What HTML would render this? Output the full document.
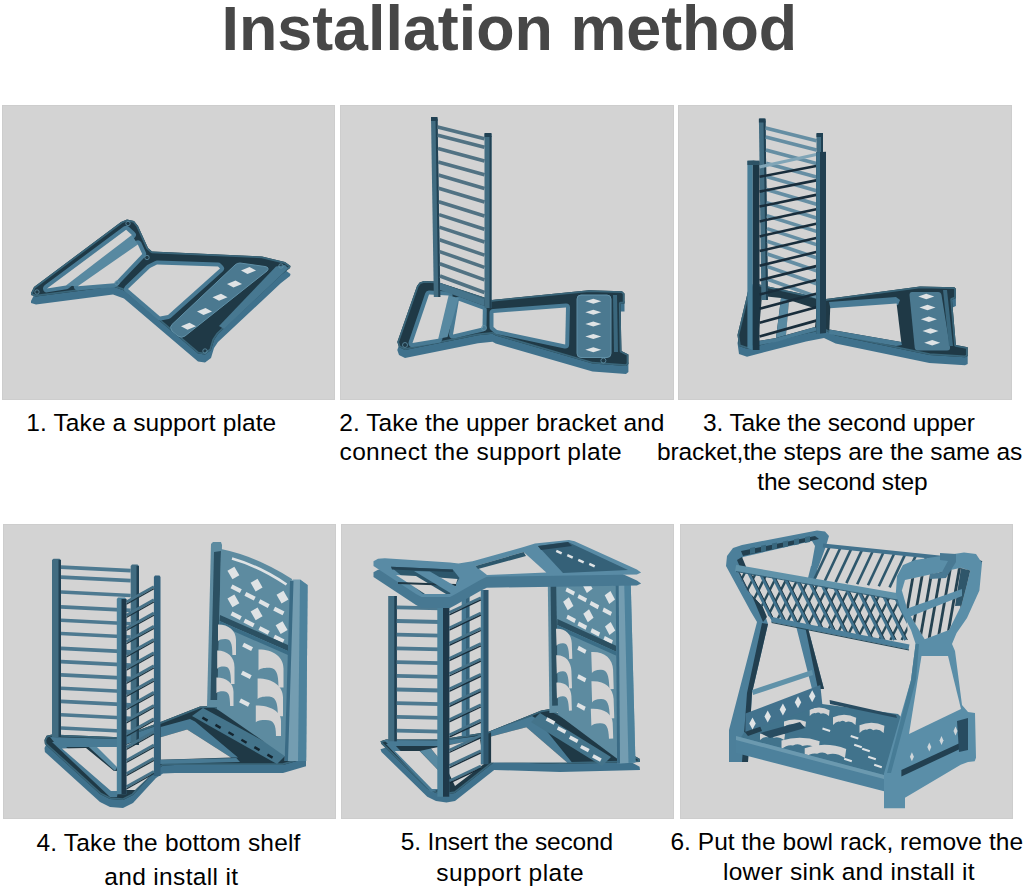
<!DOCTYPE html>
<html><head><meta charset="utf-8">
<style>
html,body{margin:0;padding:0;background:#fff;width:1024px;height:889px;overflow:hidden;position:relative;font-family:"Liberation Sans",sans-serif;}
.title{position:absolute;left:-2.7px;top:-3.1px;width:1024px;text-align:center;font-weight:bold;font-size:62.8px;line-height:62.8px;color:#474747;white-space:nowrap;}
.p{position:absolute;background:#d3d3d3;overflow:hidden;box-shadow:inset 0 0 0 1px #cdcdcd;}
.p svg{position:absolute;left:0;top:0;filter:blur(0.35px);}
.c{position:absolute;font-size:24.5px;line-height:29px;color:#000;white-space:nowrap;}
</style></head><body>
<div class="title"><span id="title">Installation method</span></div>

<div class="p" id="p1" style="left:2px;top:105px;width:333px;height:295px"><svg width="333" height="295" viewBox="2 105 333 295"><polygon points="31,301 34,295 121,230 127,227.5 134,229 138,234 148,256 152,259.5 262,264.5 285,270 290.5,274 290,276 281,283 218,342 214,348 211,358 205,362.5 198,361.5 124,298.5 113,294.5 36,304.5 31,303" fill="#3f718c" /><polygon points="31,293 34,287 121,222 127,219.5 134,221 138,226 148,248 152,251.5 262,256.5 285,262 290.5,266 290,268 281,275 218,334 214,340 211,350 205,354.5 198,353.5 124,290.5 113,286.5 36,296.5 31,295" fill="#1f3946" /><clipPath id="cx1"><polygon points="31,293 34,287 121,222 127,219.5 134,221 138,226 148,248 152,251.5 262,256.5 285,262 290.5,266 290,268 281,275 218,334 214,340 211,350 205,354.5 198,353.5 124,290.5 113,286.5 36,296.5 31,295"/></clipPath><polygon points="31,293 34,287 121,222 127,219.5 134,221 138,226 148,248 152,251.5 262,256.5 285,262 290.5,266 290,268 281,275 218,334 214,340 211,350 205,354.5 198,353.5 124,290.5 113,286.5 36,296.5 31,295" fill="none" stroke="#396579" stroke-width="3.5" stroke-linejoin="round" clip-path="url(#cx1)"/><polygon points="47,288.4 126.1,229.8 131.9,234.9 66,285.4" fill="#487a94" stroke="#487a94" stroke-width="8" stroke-linejoin="round"/><polygon points="77.7,286.2 137.8,244.4 142.2,253.9 114.4,283.2" fill="#487a94" stroke="#487a94" stroke-width="8" stroke-linejoin="round"/><polygon points="128,289 150,268 157,264.5 218,266.5 220,268.5 168,315 160,316.5" fill="#487a94" stroke="#487a94" stroke-width="8" stroke-linejoin="round"/><polygon points="66,285.4 131.9,234.9 137.8,244.4 77.7,286.2" fill="#5889a1" /><polygon points="47,288.4 126.1,229.8 131.9,234.9 66,285.4" fill="#d3d3d3" /><polygon points="77.7,286.2 137.8,244.4 142.2,253.9 114.4,283.2" fill="#d3d3d3" /><polygon points="128,289 150,268 157,264.5 218,266.5 220,268.5 168,315 160,316.5" fill="#d3d3d3" /><path d="M240,263 L265,266.5 Q270,267.5 267,271 L185,336 Q182,338.5 178,336 L172,331 Q169,327 172,324.5 L235,265 Q237,263 240,263 Z" fill="#4b7990" stroke="#6090a7" stroke-width="1"/><polygon points="241,270.5 249.5,267 256,270.5 247.5,274" fill="#dfe3e5" /><polygon points="227,284 235.5,280.5 242,284 233.5,287.5" fill="#dfe3e5" /><polygon points="212.5,297.3 221,293.8 227.5,297.3 219,300.8" fill="#dfe3e5" /><polygon points="197,311.4 205.5,307.9 212,311.4 203.5,314.9" fill="#dfe3e5" /><polygon points="181,326.3 189.5,322.8 196,326.3 187.5,329.8" fill="#dfe3e5" /><polygon points="276,266.5 285,265 288,268 281,275 224,329 219,326" fill="#477891" /><circle cx="128" cy="223.5" r="2.2" fill="none" stroke="#6090a7" stroke-width="0.8"/><circle cx="147" cy="257.5" r="2.2" fill="none" stroke="#6090a7" stroke-width="0.8"/><circle cx="117" cy="283" r="2.2" fill="none" stroke="#6090a7" stroke-width="0.8"/><circle cx="37" cy="292" r="2.2" fill="none" stroke="#6090a7" stroke-width="0.8"/><circle cx="281" cy="266" r="2.2" fill="none" stroke="#6090a7" stroke-width="0.8"/><circle cx="205" cy="351" r="2.2" fill="none" stroke="#6090a7" stroke-width="0.8"/></svg></div>
<div class="p" id="p2" style="left:340px;top:105px;width:334px;height:295px"><svg width="334" height="295" viewBox="340 105 334 295"><polygon points="419.6,290.4 424,289 436,289.5 492,308 496,307.5 589,298.3 622,299.2 624.5,301.5 624.5,311.6 620.6,311.6 621.4,359 628.4,362.4 628.4,372 626,374 592.5,371.6 495.6,343.4 492.5,341.8 478,343.2 405,358 399,355 397.3,350 417,294" fill="#3f718c" /><polygon points="419.6,282.4 424,281 436,281.5 492,300 496,299.5 589,290.3 622,291.2 624.5,293.5 624.5,303.6 620.6,303.6 621.4,351 628.4,354.4 628.4,364 626,366 592.5,363.6 495.6,335.4 492.5,333.8 478,335.2 405,350 399,347 397.3,342 417,286" fill="#1f3946" /><clipPath id="cx2"><polygon points="419.6,282.4 424,281 436,281.5 492,300 496,299.5 589,290.3 622,291.2 624.5,293.5 624.5,303.6 620.6,303.6 621.4,351 628.4,354.4 628.4,364 626,366 592.5,363.6 495.6,335.4 492.5,333.8 478,335.2 405,350 399,347 397.3,342 417,286"/></clipPath><polygon points="419.6,282.4 424,281 436,281.5 492,300 496,299.5 589,290.3 622,291.2 624.5,293.5 624.5,303.6 620.6,303.6 621.4,351 628.4,354.4 628.4,364 626,366 592.5,363.6 495.6,335.4 492.5,333.8 478,335.2 405,350 399,347 397.3,342 417,286" fill="none" stroke="#396579" stroke-width="3.5" stroke-linejoin="round" clip-path="url(#cx2)"/><polygon points="429,294.5 448.6,295.5 438.3,338.8 412.5,343" fill="#487a94" stroke="#487a94" stroke-width="8" stroke-linejoin="round"/><polygon points="458.8,300.8 482.8,309.5 482.5,327.5 453,334.5" fill="#487a94" stroke="#487a94" stroke-width="8" stroke-linejoin="round"/><polygon points="493.5,313 566,307.5 565.2,344.5 497,330 493.5,327" fill="#487a94" stroke="#487a94" stroke-width="8" stroke-linejoin="round"/><polygon points="448.6,295.5 458.8,298 447.5,337 438.3,338.8" fill="#5889a1" /><polygon points="429,294.5 448.6,295.5 438.3,338.8 412.5,343" fill="#d3d3d3" /><polygon points="458.8,300.8 482.8,309.5 482.5,327.5 453,334.5" fill="#d3d3d3" /><polygon points="493.5,313 566,307.5 565.2,344.5 497,330 493.5,327" fill="#d3d3d3" /><rect x="577" y="295" width="34" height="62.5" rx="4" fill="#4b7990" stroke="#6090a7" stroke-width="1"/><polygon points="585.3,301.25 593.3,298.75 601.3,301.25 593.3,303.75" fill="#dfe3e5" /><polygon points="585.3,312.2 593.3,309.7 601.3,312.2 593.3,314.7" fill="#dfe3e5" /><polygon points="585.3,323.9 593.3,321.4 601.3,323.9 593.3,326.4" fill="#dfe3e5" /><polygon points="585.3,336.4 593.3,333.9 601.3,336.4 593.3,338.9" fill="#dfe3e5" /><polygon points="585.3,349.7 593.3,347.2 601.3,349.7 593.3,352.2" fill="#dfe3e5" /><polygon points="613,295 617,295 618,352 614,352" fill="#3a677d" /><circle cx="484" cy="328" r="2.5" fill="none" stroke="#6090a7" stroke-width="0.8"/><circle cx="603.4" cy="360.6" r="2.5" fill="none" stroke="#6090a7" stroke-width="0.8"/><circle cx="405" cy="345" r="2.5" fill="none" stroke="#6090a7" stroke-width="0.8"/><polygon points="431,118 432,117 436.5,117 437.5,118 440.3,297 433.8,297" fill="#416c81" /><polygon points="435.5,119 437.5,119 440.3,297 438.3,297" fill="#204153" /><polygon points="431,117 437.5,117 437.5,121 431,121" fill="#204153" /><line x1="437.656" y1="127" x2="484.5" y2="138.711" stroke="#517283" stroke-width="3.6" stroke-linecap="butt"/><line x1="437.785" y1="135.3" x2="484.5" y2="147.291" stroke="#517283" stroke-width="3.6" stroke-linecap="butt"/><line x1="437.992" y1="148.6" x2="484.5" y2="161.036" stroke="#517283" stroke-width="3.6" stroke-linecap="butt"/><line x1="438.198" y1="161.9" x2="484.5" y2="174.777" stroke="#517283" stroke-width="3.6" stroke-linecap="butt"/><line x1="438.404" y1="175.1" x2="484.5" y2="188.41" stroke="#517283" stroke-width="3.6" stroke-linecap="butt"/><line x1="438.609" y1="188.3" x2="484.5" y2="202.038" stroke="#517283" stroke-width="3.6" stroke-linecap="butt"/><line x1="438.819" y1="201.8" x2="484.5" y2="215.972" stroke="#517283" stroke-width="3.6" stroke-linecap="butt"/><line x1="439.018" y1="214.6" x2="484.5" y2="229.179" stroke="#517283" stroke-width="3.6" stroke-linecap="butt"/><line x1="439.213" y1="227.1" x2="484.5" y2="242.073" stroke="#517283" stroke-width="3.6" stroke-linecap="butt"/><line x1="439.41" y1="239.8" x2="484.5" y2="255.169" stroke="#517283" stroke-width="3.6" stroke-linecap="butt"/><line x1="439.594" y1="251.6" x2="484.5" y2="267.333" stroke="#517283" stroke-width="3.6" stroke-linecap="butt"/><line x1="439.784" y1="263.8" x2="484.5" y2="279.906" stroke="#517283" stroke-width="3.6" stroke-linecap="butt"/><line x1="439.973" y1="276" x2="484.5" y2="292.475" stroke="#517283" stroke-width="3.6" stroke-linecap="butt"/><polygon points="484.5,134 485.5,133 490.5,133 491.5,134 491.5,308 484.5,308" fill="#416c81" /><polygon points="484.5,133 491.5,133 491.5,137 484.5,137" fill="#204153" /><polygon points="489.5,136 491.5,136 491.5,308 489.5,308" fill="#204153" /><polygon points="440,283 484.5,299 484.5,306 440,290" fill="#46748b" /></svg></div>
<div class="p" id="p3" style="left:678px;top:105px;width:334px;height:295px"><svg width="334" height="295" viewBox="678 105 334 295"><polygon points="750,293 757,292 826,307 830,306.5 920,294.4 954.4,295.2 955.9,296.75 955.9,306 952,307.7 955.9,353 967.7,355.3 967.7,364 965,365.3 929.4,363 835.6,343.4 824,338 806,341.5 747,356.7 739,354 737.5,343 749,295" fill="#3f718c" /><polygon points="750,285 757,284 826,299 830,298.5 920,286.4 954.4,287.2 955.9,288.75 955.9,298 952,299.7 955.9,345 967.7,347.3 967.7,356 965,357.3 929.4,355 835.6,335.4 824,330 806,333.5 747,348.7 739,346 737.5,335 749,287" fill="#1f3946" /><clipPath id="cx3"><polygon points="750,285 757,284 826,299 830,298.5 920,286.4 954.4,287.2 955.9,288.75 955.9,298 952,299.7 955.9,345 967.7,347.3 967.7,356 965,357.3 929.4,355 835.6,335.4 824,330 806,333.5 747,348.7 739,346 737.5,335 749,287"/></clipPath><polygon points="750,285 757,284 826,299 830,298.5 920,286.4 954.4,287.2 955.9,288.75 955.9,298 952,299.7 955.9,345 967.7,347.3 967.7,356 965,357.3 929.4,355 835.6,335.4 824,330 806,333.5 747,348.7 739,346 737.5,335 749,287" fill="none" stroke="#396579" stroke-width="3.5" stroke-linejoin="round" clip-path="url(#cx3)"/><polygon points="762,296 781,298 776,338 758,341" fill="#d3d3d3" /><polygon points="781,298 789,300 786,335 776,338" fill="#5889a1" /><polygon points="789,300 817,309 815,327 786,335" fill="#d3d3d3" /><polygon points="758,341 776,338 815,327 818,330 776,342 759,345" fill="#487a94" /><polygon points="829,302 896,297 900,300 898,305 831,311" fill="#487a94" /><polygon points="830.2,308.3 896.6,303.6 901.25,341.9 829.4,329.4" fill="#d3d3d3" /><polygon points="829.4,329.4 901.25,341.9 902,345 896,346 829,334" fill="#487a94" /><path d="M912,292 L938,292 Q941,292 941.5,295 L950,347 Q950.5,350.5 947,350.5 L918,350.5 Q915,350.5 914.7,347.5 L909.5,295 Q909.5,292 912,292 Z" fill="#4b7990"/><polygon points="918.25,296.6 926.25,293.85 934.25,296.6 926.25,299.35" fill="#dfe3e5" /><polygon points="919.5,307.5 927.5,304.75 935.5,307.5 927.5,310.25" fill="#dfe3e5" /><polygon points="920.9,319.2 928.9,316.45 936.9,319.2 928.9,321.95" fill="#dfe3e5" /><polygon points="922.5,330.9 930.5,328.15 938.5,330.9 930.5,333.65" fill="#dfe3e5" /><polygon points="924.2,342.7 932.2,339.95 940.2,342.7 932.2,345.45" fill="#dfe3e5" /><polygon points="943,290 947,290 953,346 949,346" fill="#3a677d" /><polygon points="758.9,119.5 759.9,118.5 764.5,118.5 765.5,119.5 768,300 761.4,300" fill="#416c81" /><polygon points="763.5,120.5 765.5,120.5 768,300 766,300" fill="#204153" /><polygon points="758.9,118.5 765.5,118.5 765.5,122.5 758.9,122.5" fill="#204153" /><line x1="765.631" y1="128" x2="816.5" y2="140.717" stroke="#658ea3" stroke-width="3.6" stroke-linecap="butt"/><line x1="765.755" y1="137" x2="816.5" y2="150.019" stroke="#658ea3" stroke-width="3.6" stroke-linecap="butt"/><line x1="765.934" y1="150" x2="816.5" y2="163.451" stroke="#658ea3" stroke-width="3.6" stroke-linecap="butt"/><line x1="766.116" y1="163.2" x2="816.5" y2="177.086" stroke="#658ea3" stroke-width="3.6" stroke-linecap="butt"/><line x1="766.298" y1="176.4" x2="816.5" y2="190.718" stroke="#658ea3" stroke-width="3.6" stroke-linecap="butt"/><line x1="766.479" y1="189.6" x2="816.5" y2="204.347" stroke="#658ea3" stroke-width="3.6" stroke-linecap="butt"/><line x1="766.661" y1="202.8" x2="816.5" y2="217.972" stroke="#658ea3" stroke-width="3.6" stroke-linecap="butt"/><line x1="766.84" y1="215.8" x2="816.5" y2="231.387" stroke="#658ea3" stroke-width="3.6" stroke-linecap="butt"/><line x1="767.017" y1="228.6" x2="816.5" y2="244.592" stroke="#658ea3" stroke-width="3.6" stroke-linecap="butt"/><line x1="767.191" y1="241.3" x2="816.5" y2="257.692" stroke="#658ea3" stroke-width="3.6" stroke-linecap="butt"/><line x1="767.366" y1="254" x2="816.5" y2="270.787" stroke="#658ea3" stroke-width="3.6" stroke-linecap="butt"/><line x1="767.54" y1="266.6" x2="816.5" y2="283.777" stroke="#658ea3" stroke-width="3.6" stroke-linecap="butt"/><line x1="767.713" y1="279.2" x2="816.5" y2="296.763" stroke="#658ea3" stroke-width="3.6" stroke-linecap="butt"/><polygon points="816.5,134 817.5,133 822,133 823,134 823,312 816.5,312" fill="#416c81" /><polygon points="816.5,133 823,133 823,137 816.5,137" fill="#204153" /><polygon points="821,136 823,136 823,312 821,312" fill="#204153" /><polygon points="747.4,161 752.8,160.6 752.8,350 747.4,348" fill="#487e98" /><polygon points="752.8,160.6 759.5,161.5 759.5,350 752.8,350" fill="#1c3746" /><polygon points="747.4,160.6 759.5,160.6 759.5,165 747.4,165" fill="#2d5265" /><line x1="759.5" y1="167" x2="816.2" y2="154.5" stroke="#80a5b7" stroke-width="3" stroke-linecap="butt"/><line x1="759.5" y1="176.8" x2="816.2" y2="166.027" stroke="#192d3b" stroke-width="2.6" stroke-linecap="butt"/><line x1="759.5" y1="191.6" x2="816.2" y2="180.354" stroke="#192d3b" stroke-width="2.6" stroke-linecap="butt"/><line x1="759.5" y1="206.6" x2="816.2" y2="194.875" stroke="#192d3b" stroke-width="2.6" stroke-linecap="butt"/><line x1="759.5" y1="221.4" x2="816.2" y2="209.202" stroke="#192d3b" stroke-width="2.6" stroke-linecap="butt"/><line x1="759.5" y1="236.4" x2="816.2" y2="223.723" stroke="#192d3b" stroke-width="2.6" stroke-linecap="butt"/><line x1="759.5" y1="251.1" x2="816.2" y2="237.953" stroke="#192d3b" stroke-width="2.6" stroke-linecap="butt"/><line x1="759.5" y1="265.7" x2="816.2" y2="252.086" stroke="#192d3b" stroke-width="2.6" stroke-linecap="butt"/><line x1="759.5" y1="280.2" x2="816.2" y2="266.123" stroke="#192d3b" stroke-width="2.6" stroke-linecap="butt"/><line x1="759.5" y1="294.6" x2="816.2" y2="280.063" stroke="#192d3b" stroke-width="2.6" stroke-linecap="butt"/><line x1="759.5" y1="308.8" x2="816.2" y2="293.809" stroke="#192d3b" stroke-width="2.6" stroke-linecap="butt"/><line x1="759.5" y1="322.8" x2="816.2" y2="307.362" stroke="#192d3b" stroke-width="2.6" stroke-linecap="butt"/><line x1="759.5" y1="336.5" x2="816.2" y2="320.624" stroke="#192d3b" stroke-width="2.6" stroke-linecap="butt"/><polygon points="816.2,152.3 826,151.8 826,333 816.2,334" fill="#213f50" /><polygon points="816.2,152.3 820,152 820,334 816.2,334" fill="#3b6d86" /></svg></div>
<div class="p" id="p4" style="left:3px;top:524px;width:333px;height:295px"><svg width="333" height="295" viewBox="3 524 333 295"><polygon points="46.6,743.7 52,742.5 119.6,745.3 158,731 200,714.5 214,714 306,760 306,766.3 283,773 175,773 163,773.5 156,778 133,803 123,808 110,807 100,802 44.9,752 44.5,748" fill="#3f718c" /><polygon points="46.6,735.7 52,734.5 119.6,737.3 158,723 200,706.5 214,706 306,752 306,758.3 283,765 175,765 163,765.5 156,770 133,795 123,800 110,799 100,794 44.9,744 44.5,740" fill="#1f3946" /><clipPath id="cx4"><polygon points="46.6,735.7 52,734.5 119.6,737.3 158,723 200,706.5 214,706 306,752 306,758.3 283,765 175,765 163,765.5 156,770 133,795 123,800 110,799 100,794 44.9,744 44.5,740"/></clipPath><polygon points="46.6,735.7 52,734.5 119.6,737.3 158,723 200,706.5 214,706 306,752 306,758.3 283,765 175,765 163,765.5 156,770 133,795 123,800 110,799 100,794 44.9,744 44.5,740" fill="none" stroke="#396579" stroke-width="3.5" stroke-linejoin="round" clip-path="url(#cx4)"/><polygon points="52,742 60,742 118,790 117,797 110,797" fill="#487a94" /><polygon points="62,748.5 86,748 114,771 117,771 117,791 111,791" fill="#d3d3d3" /><polygon points="85,743.5 96.5,742.5 119.5,763 115,771" fill="#5889a1" /><polygon points="96,746 126,745 155,733 158,768 135,790 118,790 118,768" fill="#d3d3d3" /><polygon points="50,737 119,739 156,726 156,733 119,747 58,747" fill="#487a94" /><polygon points="160.7,727 190,719 195,721.5 238,757.5 231,757.5 187.1,729.4 160.7,737.2" fill="#487a94" /><polygon points="160.7,737.2 187.1,729.4 231,757.5 160.7,759.7" fill="#d3d3d3" /><polygon points="160,759.7 236.3,758 240,762 160,764" fill="#487a94" /><polygon points="192,716 203,708 287,754 277,764" fill="#44748b" /><rect x="202.0" y="717.8" width="6" height="2.5" fill="#14252f" transform="rotate(30 205.0 719.0)"/><rect x="215.0" y="725.1" width="6" height="2.5" fill="#14252f" transform="rotate(30 218.0 726.4)"/><rect x="228.0" y="732.5" width="6" height="2.5" fill="#14252f" transform="rotate(30 231.0 733.8)"/><rect x="241.0" y="740.0" width="6" height="2.5" fill="#14252f" transform="rotate(30 244.0 741.2)"/><rect x="254.0" y="747.4" width="6" height="2.5" fill="#14252f" transform="rotate(30 257.0 748.6)"/><rect x="267.0" y="754.8" width="6" height="2.5" fill="#14252f" transform="rotate(30 270.0 756.0)"/><polygon points="52,560 53.5,558.8 59.5,558.8 61,560 61,737 52,737" fill="#416c81" /><polygon points="58.5,560 61,560 61,737 58.5,737" fill="#204153" /><line x1="61" y1="567.1" x2="130.7" y2="570.6" stroke="#4d7990" stroke-width="3.6" stroke-linecap="butt"/><line x1="61" y1="577.1" x2="130.7" y2="580.6" stroke="#4d7990" stroke-width="3.6" stroke-linecap="butt"/><line x1="61" y1="592" x2="130.7" y2="595.5" stroke="#4d7990" stroke-width="3.6" stroke-linecap="butt"/><line x1="61" y1="606.9" x2="130.7" y2="610.4" stroke="#4d7990" stroke-width="3.6" stroke-linecap="butt"/><line x1="61" y1="620.2" x2="130.7" y2="623.7" stroke="#4d7990" stroke-width="3.6" stroke-linecap="butt"/><line x1="61" y1="633.5" x2="130.7" y2="637" stroke="#4d7990" stroke-width="3.6" stroke-linecap="butt"/><line x1="61" y1="648.4" x2="130.7" y2="651.9" stroke="#4d7990" stroke-width="3.6" stroke-linecap="butt"/><line x1="61" y1="661.6" x2="130.7" y2="665.1" stroke="#4d7990" stroke-width="3.6" stroke-linecap="butt"/><line x1="61" y1="674.9" x2="130.7" y2="678.4" stroke="#4d7990" stroke-width="3.6" stroke-linecap="butt"/><line x1="61" y1="688.2" x2="130.7" y2="691.7" stroke="#4d7990" stroke-width="3.6" stroke-linecap="butt"/><line x1="61" y1="701.4" x2="130.7" y2="704.9" stroke="#4d7990" stroke-width="3.6" stroke-linecap="butt"/><line x1="61" y1="714.7" x2="130.7" y2="718.2" stroke="#4d7990" stroke-width="3.6" stroke-linecap="butt"/><line x1="61" y1="728" x2="130.7" y2="731.5" stroke="#4d7990" stroke-width="3.6" stroke-linecap="butt"/><polygon points="130.7,566 132,564.5 137.5,564.5 139,566 139,745 130.7,745" fill="#416c81" /><polygon points="136.5,566 139,566 139,745 136.5,745" fill="#204153" /><polygon points="153.9,577 155,575.4 159.5,575.4 160.5,577 160.5,776 153.9,776" fill="#33617c" /><line x1="126.4" y1="602" x2="153.9" y2="586.6" stroke="#467288" stroke-width="2.8" stroke-linecap="butt"/><line x1="126.4" y1="604.2" x2="153.9" y2="588.8" stroke="#1b3440" stroke-width="1.2" stroke-linecap="butt"/><line x1="126.4" y1="615.2" x2="153.9" y2="599.8" stroke="#467288" stroke-width="2.8" stroke-linecap="butt"/><line x1="126.4" y1="617.4" x2="153.9" y2="602" stroke="#1b3440" stroke-width="1.2" stroke-linecap="butt"/><line x1="126.4" y1="628.4" x2="153.9" y2="613" stroke="#467288" stroke-width="2.8" stroke-linecap="butt"/><line x1="126.4" y1="630.6" x2="153.9" y2="615.2" stroke="#1b3440" stroke-width="1.2" stroke-linecap="butt"/><line x1="126.4" y1="641.6" x2="153.9" y2="626.2" stroke="#467288" stroke-width="2.8" stroke-linecap="butt"/><line x1="126.4" y1="643.8" x2="153.9" y2="628.4" stroke="#1b3440" stroke-width="1.2" stroke-linecap="butt"/><line x1="126.4" y1="654.8" x2="153.9" y2="639.4" stroke="#467288" stroke-width="2.8" stroke-linecap="butt"/><line x1="126.4" y1="657" x2="153.9" y2="641.6" stroke="#1b3440" stroke-width="1.2" stroke-linecap="butt"/><line x1="126.4" y1="668" x2="153.9" y2="652.6" stroke="#467288" stroke-width="2.8" stroke-linecap="butt"/><line x1="126.4" y1="670.2" x2="153.9" y2="654.8" stroke="#1b3440" stroke-width="1.2" stroke-linecap="butt"/><line x1="126.4" y1="681.2" x2="153.9" y2="665.8" stroke="#467288" stroke-width="2.8" stroke-linecap="butt"/><line x1="126.4" y1="683.4" x2="153.9" y2="668" stroke="#1b3440" stroke-width="1.2" stroke-linecap="butt"/><line x1="126.4" y1="694.4" x2="153.9" y2="679" stroke="#467288" stroke-width="2.8" stroke-linecap="butt"/><line x1="126.4" y1="696.6" x2="153.9" y2="681.2" stroke="#1b3440" stroke-width="1.2" stroke-linecap="butt"/><line x1="126.4" y1="707.6" x2="153.9" y2="692.2" stroke="#467288" stroke-width="2.8" stroke-linecap="butt"/><line x1="126.4" y1="709.8" x2="153.9" y2="694.4" stroke="#1b3440" stroke-width="1.2" stroke-linecap="butt"/><line x1="126.4" y1="720.8" x2="153.9" y2="705.4" stroke="#467288" stroke-width="2.8" stroke-linecap="butt"/><line x1="126.4" y1="723" x2="153.9" y2="707.6" stroke="#1b3440" stroke-width="1.2" stroke-linecap="butt"/><line x1="126.4" y1="734" x2="153.9" y2="718.6" stroke="#467288" stroke-width="2.8" stroke-linecap="butt"/><line x1="126.4" y1="736.2" x2="153.9" y2="720.8" stroke="#1b3440" stroke-width="1.2" stroke-linecap="butt"/><line x1="126.4" y1="747.2" x2="153.9" y2="731.8" stroke="#467288" stroke-width="2.8" stroke-linecap="butt"/><line x1="126.4" y1="749.4" x2="153.9" y2="734" stroke="#1b3440" stroke-width="1.2" stroke-linecap="butt"/><line x1="126.4" y1="760.4" x2="153.9" y2="745" stroke="#467288" stroke-width="2.8" stroke-linecap="butt"/><line x1="126.4" y1="762.6" x2="153.9" y2="747.2" stroke="#1b3440" stroke-width="1.2" stroke-linecap="butt"/><line x1="126.4" y1="773.6" x2="153.9" y2="758.2" stroke="#467288" stroke-width="2.8" stroke-linecap="butt"/><line x1="126.4" y1="775.8" x2="153.9" y2="760.4" stroke="#1b3440" stroke-width="1.2" stroke-linecap="butt"/><line x1="126.4" y1="786.8" x2="153.9" y2="771.4" stroke="#467288" stroke-width="2.8" stroke-linecap="butt"/><line x1="126.4" y1="789" x2="153.9" y2="773.6" stroke="#1b3440" stroke-width="1.2" stroke-linecap="butt"/><polygon points="116.8,599 118,597.6 125,597.6 126.4,599 126.4,794.3 116.8,794.3" fill="#4b8099" /><polygon points="121.5,599 126.4,599 126.4,794.3 121.5,794.3" fill="#1e394a" /><polygon points="211,544 213,542 221,542 222,545 218,707 207,707" fill="#5d8ba0" /><polygon points="214,552 221,551 217.5,700 210.5,700" fill="#2b5062" /><path d="M221,549 Q256,556 292,579 L286,757 L217,709 Z" fill="#5d8ba0"/><path d="M232,558.5 Q259,566 286.5,584.5" stroke="#dfe3e5" stroke-width="2.6" fill="none"/><rect x="229.4" y="568.0" width="8" height="10" fill="#dfe3e5" transform="rotate(-30 233.4 573.0)"/><rect x="252.6" y="580.1" width="8" height="10" fill="#dfe3e5" transform="rotate(-30 256.6 585.1)"/><rect x="278.5" y="592.1" width="8" height="10" fill="#dfe3e5" transform="rotate(-30 282.5 597.1)"/><rect x="229.4" y="595.8" width="8" height="10" fill="#dfe3e5" transform="rotate(-30 233.4 600.8)"/><rect x="252.6" y="608.8" width="8" height="10" fill="#dfe3e5" transform="rotate(-30 256.6 613.8)"/><rect x="277.6" y="622.7" width="8" height="10" fill="#dfe3e5" transform="rotate(-30 281.6 627.7)"/><rect x="230.9" y="586.7" width="10.5" height="4.2" fill="#dfe3e5" transform="rotate(27 236.2 588.8)"/><rect x="244.8" y="594.1" width="10.5" height="4.2" fill="#dfe3e5" transform="rotate(27 250.1 596.2)"/><rect x="258.8" y="601.5" width="10.5" height="4.2" fill="#dfe3e5" transform="rotate(27 264.0 603.6)"/><rect x="273.6" y="608.9" width="10.5" height="4.2" fill="#dfe3e5" transform="rotate(27 278.8 611.0)"/><rect x="230.9" y="613.6" width="10.5" height="4.2" fill="#dfe3e5" transform="rotate(27 236.2 615.7)"/><rect x="243.8" y="621.0" width="10.5" height="4.2" fill="#dfe3e5" transform="rotate(27 249.1 623.1)"/><rect x="258.8" y="628.4" width="10.5" height="4.2" fill="#dfe3e5" transform="rotate(27 264.0 630.5)"/><rect x="273.6" y="636.8" width="10.5" height="4.2" fill="#dfe3e5" transform="rotate(27 278.8 638.9)"/><polygon points="220,615 288,645 288,651 219.5,621" fill="#2b5062" /><polygon points="219.5,621 288,651 288,655 219.3,625" fill="#3b6d86" /><path d="M218.0,624.5 C228.8,624.5 236.0,630.6 236.0,639.8 L236.0,655.0 L232.4,655.0 C232.4,642.8 230.6,639.1 225.2,639.1 C221.6,639.1 218.9,639.8 218.0,641.3 Z" fill="#d3d3d3"/><path d="M217.2,650.5 C227.6,650.5 234.5,657.2 234.5,667.2 L234.5,684.0 L231.0,684.0 C231.0,670.6 229.3,666.6 224.1,666.6 C220.7,666.6 218.1,667.2 217.2,668.9 Z" fill="#d3d3d3"/><path d="M216.4,677.5 C226.7,677.5 233.5,683.2 233.5,691.8 L233.5,706.0 L230.1,706.0 C230.1,694.6 228.4,691.2 223.2,691.2 C219.8,691.2 217.3,691.8 216.4,693.2 Z" fill="#d3d3d3"/><path d="M258.5,649.6 C273.5,649.6 283.5,657.2 283.5,668.5 L283.5,687.4 L278.5,687.4 C278.5,672.3 276.0,667.7 268.5,667.7 C263.5,667.7 259.8,668.5 258.5,670.4 Z" fill="#d3d3d3"/><path d="M257.6,678.4 C272.8,678.4 283.0,686.0 283.0,697.3 L283.0,716.2 L277.9,716.2 C277.9,701.1 275.4,696.5 267.8,696.5 C262.7,696.5 258.9,697.3 257.6,699.2 Z" fill="#d3d3d3"/><path d="M255.8,705.4 C270.9,705.4 281.0,711.5 281.0,720.7 L281.0,736.0 L276.0,736.0 C276.0,723.8 273.4,720.1 265.9,720.1 C260.8,720.1 257.1,720.7 255.8,722.2 Z" fill="#d3d3d3"/><rect x="242.6" y="644.8" width="10" height="4.2" fill="#dfe3e5" transform="rotate(27 247.6 646.9)"/><rect x="241.3" y="672.7" width="10" height="4.2" fill="#dfe3e5" transform="rotate(27 246.3 674.8)"/><rect x="239.5" y="700.6" width="10" height="4.2" fill="#dfe3e5" transform="rotate(27 244.5 702.7)"/><polygon points="291,581 293,579.5 300,579.5 307.6,585 306.2,761 284.6,761" fill="#749db1" /><polygon points="300,579.5 307.6,585 306.2,761 298,761" fill="#4d829c" /><polygon points="290,581 293.5,581 288,761 284.6,761" fill="#3a6b85" /></svg></div>
<div class="p" id="p5" style="left:341px;top:524px;width:333px;height:295px"><svg width="333" height="295" viewBox="341 524 333 295"><polygon points="380.5,749.3 386,747.5 440.7,747.4 488.5,739.7 541.2,718.5 550,717 639.6,766.8 640,770 560,771.9 494.2,770 484.7,777.6 455,801 446.5,802.5 436,801 427.3,796.7 381.5,752" fill="#3f718c" /><polygon points="380.5,741.3 386,739.5 440.7,739.4 488.5,731.7 541.2,710.5 550,709 639.6,758.8 640,762 560,763.9 494.2,762 484.7,769.6 455,793 446.5,794.5 436,793 427.3,788.7 381.5,744" fill="#1f3946" /><clipPath id="cx5"><polygon points="380.5,741.3 386,739.5 440.7,739.4 488.5,731.7 541.2,710.5 550,709 639.6,758.8 640,762 560,763.9 494.2,762 484.7,769.6 455,793 446.5,794.5 436,793 427.3,788.7 381.5,744"/></clipPath><polygon points="380.5,741.3 386,739.5 440.7,739.4 488.5,731.7 541.2,710.5 550,709 639.6,758.8 640,762 560,763.9 494.2,762 484.7,769.6 455,793 446.5,794.5 436,793 427.3,788.7 381.5,744" fill="none" stroke="#396579" stroke-width="3.5" stroke-linejoin="round" clip-path="url(#cx5)"/><polygon points="386,744 394,744 438,790 431,792" fill="#487a94" /><polygon points="384,740 440,741 487,735 487,739 440,746 390,746" fill="#487a94" /><polygon points="394.8,750.9 419.7,750.9 440,772 440,789 432,789" fill="#d3d3d3" /><polygon points="419.7,750.9 431,748.5 446,767 440,772" fill="#5889a1" /><polygon points="431,748.5 480,739 484,764 455,786 446,767" fill="#d3d3d3" /><polygon points="491,731 532,716 537,719 572,762.5 567.2,762.5 526.4,727.2 491.1,736.5" fill="#487a94" /><polygon points="491.1,736.5 526.4,727.2 567.2,762.5 491.1,762.5" fill="#d3d3d3" /><polygon points="531,722 540,713 611,757 602,766" fill="#44748b" /><rect x="546.0" y="719.2" width="9" height="3.6" fill="#dfe3e5" transform="rotate(28 550.5 721.0)"/><rect x="557.1" y="728.2" width="9" height="3.6" fill="#dfe3e5" transform="rotate(28 561.6 730.0)"/><rect x="569.2" y="737.5" width="9" height="3.6" fill="#dfe3e5" transform="rotate(28 573.7 739.3)"/><rect x="580.3" y="746.8" width="9" height="3.6" fill="#dfe3e5" transform="rotate(28 584.8 748.6)"/><rect x="592.4" y="756.2" width="9" height="3.6" fill="#dfe3e5" transform="rotate(28 596.9 758.0)"/><polygon points="388.2,596 396.8,596 396.8,741.3 388.2,741.3" fill="#416c81" /><polygon points="394.3,596 396.8,596 396.8,741.3 394.3,741.3" fill="#204153" /><line x1="396.8" y1="607.3" x2="440.7" y2="608.3" stroke="#4d7990" stroke-width="3.8" stroke-linecap="butt"/><line x1="396.8" y1="621" x2="440.7" y2="622" stroke="#4d7990" stroke-width="3.8" stroke-linecap="butt"/><line x1="396.8" y1="634.7" x2="440.7" y2="635.7" stroke="#4d7990" stroke-width="3.8" stroke-linecap="butt"/><line x1="396.8" y1="648.4" x2="440.7" y2="649.4" stroke="#4d7990" stroke-width="3.8" stroke-linecap="butt"/><line x1="396.8" y1="662.1" x2="440.7" y2="663.1" stroke="#4d7990" stroke-width="3.8" stroke-linecap="butt"/><line x1="396.8" y1="675.8" x2="440.7" y2="676.8" stroke="#4d7990" stroke-width="3.8" stroke-linecap="butt"/><line x1="396.8" y1="689.5" x2="440.7" y2="690.5" stroke="#4d7990" stroke-width="3.8" stroke-linecap="butt"/><line x1="396.8" y1="703.2" x2="440.7" y2="704.2" stroke="#4d7990" stroke-width="3.8" stroke-linecap="butt"/><line x1="396.8" y1="716.9" x2="440.7" y2="717.9" stroke="#4d7990" stroke-width="3.8" stroke-linecap="butt"/><line x1="396.8" y1="730.6" x2="440.7" y2="731.6" stroke="#4d7990" stroke-width="3.8" stroke-linecap="butt"/><polygon points="461.7,596 469.4,596 469.4,736 461.7,736" fill="#477993" /><polygon points="466,596 469.4,596 469.4,736 466,736" fill="#35627a" /><polygon points="480.9,590 488.5,590 488.5,764.2 480.9,764.2" fill="#2e566d" /><polygon points="480.9,590 483.5,590 483.5,764.2 480.9,764.2" fill="#477993" /><line x1="449.3" y1="612.6" x2="480.9" y2="597.7" stroke="#467288" stroke-width="2.8" stroke-linecap="butt"/><line x1="449.3" y1="614.8" x2="480.9" y2="599.9" stroke="#172d3b" stroke-width="1.3" stroke-linecap="butt"/><line x1="449.3" y1="627.9" x2="480.9" y2="613" stroke="#467288" stroke-width="2.8" stroke-linecap="butt"/><line x1="449.3" y1="630.1" x2="480.9" y2="615.2" stroke="#172d3b" stroke-width="1.3" stroke-linecap="butt"/><line x1="449.3" y1="643.2" x2="480.9" y2="628.3" stroke="#467288" stroke-width="2.8" stroke-linecap="butt"/><line x1="449.3" y1="645.4" x2="480.9" y2="630.5" stroke="#172d3b" stroke-width="1.3" stroke-linecap="butt"/><line x1="449.3" y1="658.5" x2="480.9" y2="643.6" stroke="#467288" stroke-width="2.8" stroke-linecap="butt"/><line x1="449.3" y1="660.7" x2="480.9" y2="645.8" stroke="#172d3b" stroke-width="1.3" stroke-linecap="butt"/><line x1="449.3" y1="673.8" x2="480.9" y2="658.9" stroke="#467288" stroke-width="2.8" stroke-linecap="butt"/><line x1="449.3" y1="676" x2="480.9" y2="661.1" stroke="#172d3b" stroke-width="1.3" stroke-linecap="butt"/><line x1="449.3" y1="689.1" x2="480.9" y2="674.2" stroke="#467288" stroke-width="2.8" stroke-linecap="butt"/><line x1="449.3" y1="691.3" x2="480.9" y2="676.4" stroke="#172d3b" stroke-width="1.3" stroke-linecap="butt"/><line x1="449.3" y1="704.4" x2="480.9" y2="689.5" stroke="#467288" stroke-width="2.8" stroke-linecap="butt"/><line x1="449.3" y1="706.6" x2="480.9" y2="691.7" stroke="#172d3b" stroke-width="1.3" stroke-linecap="butt"/><line x1="449.3" y1="719.7" x2="480.9" y2="704.8" stroke="#467288" stroke-width="2.8" stroke-linecap="butt"/><line x1="449.3" y1="721.9" x2="480.9" y2="707" stroke="#172d3b" stroke-width="1.3" stroke-linecap="butt"/><line x1="449.3" y1="735" x2="480.9" y2="720.1" stroke="#467288" stroke-width="2.8" stroke-linecap="butt"/><line x1="449.3" y1="737.2" x2="480.9" y2="722.3" stroke="#172d3b" stroke-width="1.3" stroke-linecap="butt"/><line x1="449.3" y1="750.3" x2="480.9" y2="735.4" stroke="#467288" stroke-width="2.8" stroke-linecap="butt"/><line x1="449.3" y1="752.5" x2="480.9" y2="737.6" stroke="#172d3b" stroke-width="1.3" stroke-linecap="butt"/><line x1="449.3" y1="765.6" x2="480.9" y2="750.7" stroke="#467288" stroke-width="2.8" stroke-linecap="butt"/><line x1="449.3" y1="767.8" x2="480.9" y2="752.9" stroke="#172d3b" stroke-width="1.3" stroke-linecap="butt"/><line x1="449.3" y1="780.9" x2="480.9" y2="766" stroke="#467288" stroke-width="2.8" stroke-linecap="butt"/><line x1="449.3" y1="783.1" x2="480.9" y2="768.2" stroke="#172d3b" stroke-width="1.3" stroke-linecap="butt"/><polygon points="437.3,598 449.3,598 449.3,796.7 437.3,796.7" fill="#4b8099" /><polygon points="443,598 449.3,598 449.3,796.7 443,796.7" fill="#1e394a" /><g transform="matrix(0.849,-0.0547,0.0335,1.015,350,6.8)"><polygon points="211,544 213,542 221,542 222,545 218,707 207,707" fill="#5d8ba0" /><polygon points="214,552 221,551 217.5,700 210.5,700" fill="#2b5062" /><path d="M221,549 Q256,556 292,579 L286,757 L217,709 Z" fill="#5d8ba0"/><path d="M232,558.5 Q259,566 286.5,584.5" stroke="#dfe3e5" stroke-width="2.6" fill="none"/><rect x="229.4" y="568.0" width="8" height="10" fill="#dfe3e5" transform="rotate(-30 233.4 573.0)"/><rect x="252.6" y="580.1" width="8" height="10" fill="#dfe3e5" transform="rotate(-30 256.6 585.1)"/><rect x="278.5" y="592.1" width="8" height="10" fill="#dfe3e5" transform="rotate(-30 282.5 597.1)"/><rect x="229.4" y="595.8" width="8" height="10" fill="#dfe3e5" transform="rotate(-30 233.4 600.8)"/><rect x="252.6" y="608.8" width="8" height="10" fill="#dfe3e5" transform="rotate(-30 256.6 613.8)"/><rect x="277.6" y="622.7" width="8" height="10" fill="#dfe3e5" transform="rotate(-30 281.6 627.7)"/><rect x="230.9" y="586.7" width="10.5" height="4.2" fill="#dfe3e5" transform="rotate(27 236.2 588.8)"/><rect x="244.8" y="594.1" width="10.5" height="4.2" fill="#dfe3e5" transform="rotate(27 250.1 596.2)"/><rect x="258.8" y="601.5" width="10.5" height="4.2" fill="#dfe3e5" transform="rotate(27 264.0 603.6)"/><rect x="273.6" y="608.9" width="10.5" height="4.2" fill="#dfe3e5" transform="rotate(27 278.8 611.0)"/><rect x="230.9" y="613.6" width="10.5" height="4.2" fill="#dfe3e5" transform="rotate(27 236.2 615.7)"/><rect x="243.8" y="621.0" width="10.5" height="4.2" fill="#dfe3e5" transform="rotate(27 249.1 623.1)"/><rect x="258.8" y="628.4" width="10.5" height="4.2" fill="#dfe3e5" transform="rotate(27 264.0 630.5)"/><rect x="273.6" y="636.8" width="10.5" height="4.2" fill="#dfe3e5" transform="rotate(27 278.8 638.9)"/><polygon points="220,615 288,645 288,651 219.5,621" fill="#2b5062" /><polygon points="219.5,621 288,651 288,655 219.3,625" fill="#3b6d86" /><path d="M218.0,624.5 C228.8,624.5 236.0,630.6 236.0,639.8 L236.0,655.0 L232.4,655.0 C232.4,642.8 230.6,639.1 225.2,639.1 C221.6,639.1 218.9,639.8 218.0,641.3 Z" fill="#d3d3d3"/><path d="M217.2,650.5 C227.6,650.5 234.5,657.2 234.5,667.2 L234.5,684.0 L231.0,684.0 C231.0,670.6 229.3,666.6 224.1,666.6 C220.7,666.6 218.1,667.2 217.2,668.9 Z" fill="#d3d3d3"/><path d="M216.4,677.5 C226.7,677.5 233.5,683.2 233.5,691.8 L233.5,706.0 L230.1,706.0 C230.1,694.6 228.4,691.2 223.2,691.2 C219.8,691.2 217.3,691.8 216.4,693.2 Z" fill="#d3d3d3"/><path d="M258.5,649.6 C273.5,649.6 283.5,657.2 283.5,668.5 L283.5,687.4 L278.5,687.4 C278.5,672.3 276.0,667.7 268.5,667.7 C263.5,667.7 259.8,668.5 258.5,670.4 Z" fill="#d3d3d3"/><path d="M257.6,678.4 C272.8,678.4 283.0,686.0 283.0,697.3 L283.0,716.2 L277.9,716.2 C277.9,701.1 275.4,696.5 267.8,696.5 C262.7,696.5 258.9,697.3 257.6,699.2 Z" fill="#d3d3d3"/><path d="M255.8,705.4 C270.9,705.4 281.0,711.5 281.0,720.7 L281.0,736.0 L276.0,736.0 C276.0,723.8 273.4,720.1 265.9,720.1 C260.8,720.1 257.1,720.7 255.8,722.2 Z" fill="#d3d3d3"/><rect x="242.6" y="644.8" width="10" height="4.2" fill="#dfe3e5" transform="rotate(27 247.6 646.9)"/><rect x="241.3" y="672.7" width="10" height="4.2" fill="#dfe3e5" transform="rotate(27 246.3 674.8)"/><rect x="239.5" y="700.6" width="10" height="4.2" fill="#dfe3e5" transform="rotate(27 244.5 702.7)"/><polygon points="291,581 293,579.5 300,579.5 307.6,585 306.2,761 284.6,761" fill="#749db1" /><polygon points="300,579.5 307.6,585 306.2,761 298,761" fill="#4d829c" /><polygon points="290,581 293.5,581 288,761 284.6,761" fill="#3a6b85" /></g><polygon points="373.5,572.2 378,569.8 384.8,569.3 450,573.6 458.5,574.4 472.6,572.2 523.6,558 535,554.6 568.9,550.9 574.6,552.3 636.9,580.6 641.1,583.5 636.9,585.5 486.8,587.7 481.1,590.5 455.6,605 450,608 421.6,608 416,605 373.5,577" fill="#477892" /><polygon points="373.5,561.2 378,558.8 384.8,558.3 450,562.6 458.5,563.4 472.6,561.2 523.6,547 535,543.6 568.9,539.9 574.6,541.3 636.9,569.6 641.1,572.5 636.9,574.5 486.8,576.7 481.1,579.5 455.6,594 450,597 421.6,597 416,594 373.5,566" fill="#598ba5" /><polygon points="391,566.8 452.8,569.6 459.5,578 450,594 423,594 394,569.5" fill="#2d576c" /><polygon points="396,575 416,576 446,594 425,594" fill="#d3d3d3" /><polygon points="432,577 457.5,579 455,587 450,591" fill="#d3d3d3" /><line x1="398" y1="583" x2="456" y2="585" stroke="#203845" stroke-width="2.2" stroke-linecap="butt"/><polygon points="414,571 430,571.5 460,589 452,594" fill="#598ba5" /><polygon points="391,566.8 452.8,569.6 453,572 392,569.5" fill="#234253" /><polygon points="475.5,566 523.6,552 546.3,572.5 487,575" fill="#d3d3d3" /><polygon points="475.5,566 523.6,552 526,556 478,569" fill="#2d576c" /><polygon points="538,546 568,542 628,570 563,573" fill="#356178" /><polygon points="538,546 568,542 572,546 541,550" fill="#234253" /><rect x="556.0" y="550.8" width="6" height="2.5" fill="#dfe3e5" transform="rotate(25 559.0 552.0)"/><rect x="567.0" y="555.2" width="6" height="2.5" fill="#dfe3e5" transform="rotate(25 570.0 556.5)"/><rect x="578.0" y="559.8" width="6" height="2.5" fill="#dfe3e5" transform="rotate(25 581.0 561.0)"/><rect x="589.0" y="563.8" width="6" height="2.5" fill="#dfe3e5" transform="rotate(25 592.0 565.0)"/></svg></div>
<div class="p" id="p6" style="left:680px;top:524px;width:333px;height:295px"><svg width="333" height="295" viewBox="680 524 333 295"><polygon points="727,556 733,548 742,545 817,530.5 825,531.5 829,536 826,546 818,568 811,568 815,546 812,541 743,557 739,561 766,618 768,624 752,693 748,762 729,762 729,730 757,622 751,612 726,566" fill="#4c7f9a" /><polygon points="741,551 815,536 819,539 743,556" fill="#223f4f" /><polygon points="737,560 742,557 767,617 763,622" fill="#223f4f" /><polygon points="762,623 768,624 752,693 748,762 742,762 747,693" fill="#223f4f" /><polygon points="750,548 755,547 755,553 750,554" fill="#38677e" /><polygon points="761,545.8 766,544.8 766,550.8 761,551.8" fill="#38677e" /><polygon points="772,543.6 777,542.6 777,548.6 772,549.6" fill="#38677e" /><polygon points="783,541.4 788,540.4 788,546.4 783,547.4" fill="#38677e" /><polygon points="794,539.2 799,538.2 799,544.2 794,545.2" fill="#38677e" /><polygon points="805,537 810,536 810,542 805,543" fill="#38677e" /><polygon points="811,566 818,566 808,628 824,689 812,689 796,626" fill="#4c7f9a" /><polygon points="805,626 808,628 824,689 818,689" fill="#223f4f" /><line x1="830" y1="546" x2="814" y2="580" stroke="#2e576c" stroke-width="2.6" stroke-linecap="butt"/><line x1="840.8" y1="547.05" x2="824.8" y2="581.05" stroke="#2e576c" stroke-width="2.6" stroke-linecap="butt"/><line x1="851.6" y1="548.1" x2="835.6" y2="582.1" stroke="#2e576c" stroke-width="2.6" stroke-linecap="butt"/><line x1="862.4" y1="549.15" x2="846.4" y2="583.15" stroke="#2e576c" stroke-width="2.6" stroke-linecap="butt"/><line x1="873.2" y1="550.2" x2="857.2" y2="584.2" stroke="#2e576c" stroke-width="2.6" stroke-linecap="butt"/><line x1="884" y1="551.25" x2="868" y2="585.25" stroke="#2e576c" stroke-width="2.6" stroke-linecap="butt"/><line x1="894.8" y1="552.3" x2="878.8" y2="586.3" stroke="#2e576c" stroke-width="2.6" stroke-linecap="butt"/><line x1="905.6" y1="553.35" x2="889.6" y2="587.35" stroke="#2e576c" stroke-width="2.6" stroke-linecap="butt"/><line x1="916.4" y1="554.4" x2="900.4" y2="588.4" stroke="#2e576c" stroke-width="2.6" stroke-linecap="butt"/><line x1="927.2" y1="555.45" x2="911.2" y2="589.45" stroke="#2e576c" stroke-width="2.6" stroke-linecap="butt"/><line x1="938" y1="556.5" x2="922" y2="590.5" stroke="#2e576c" stroke-width="2.6" stroke-linecap="butt"/><line x1="948.8" y1="557.55" x2="932.8" y2="591.55" stroke="#2e576c" stroke-width="2.6" stroke-linecap="butt"/><line x1="959.6" y1="558.6" x2="943.6" y2="592.6" stroke="#2e576c" stroke-width="2.6" stroke-linecap="butt"/><line x1="970.4" y1="559.65" x2="954.4" y2="593.65" stroke="#2e576c" stroke-width="2.6" stroke-linecap="butt"/><line x1="981.2" y1="560.7" x2="965.2" y2="594.7" stroke="#2e576c" stroke-width="2.6" stroke-linecap="butt"/><line x1="823" y1="545.5" x2="978" y2="561.5" stroke="#42728d" stroke-width="4" stroke-linecap="butt"/><clipPath id="lat"><polygon points="737,571 905,600 909,647 772,621 762,606 745,588"/></clipPath><g clip-path="url(#lat)"><polygon points="737,571 905,600 909,647 772,621 762,606 745,588" fill="#d3d3d3" /><line x1="695.2" y1="560" x2="655.2" y2="640" stroke="#274a5a" stroke-width="2.4" stroke-linecap="butt"/><line x1="706.4" y1="560" x2="666.4" y2="640" stroke="#274a5a" stroke-width="2.4" stroke-linecap="butt"/><line x1="717.6" y1="560" x2="677.6" y2="640" stroke="#274a5a" stroke-width="2.4" stroke-linecap="butt"/><line x1="728.8" y1="560" x2="688.8" y2="640" stroke="#274a5a" stroke-width="2.4" stroke-linecap="butt"/><line x1="740" y1="560" x2="700" y2="640" stroke="#274a5a" stroke-width="2.4" stroke-linecap="butt"/><line x1="751.2" y1="560" x2="711.2" y2="640" stroke="#274a5a" stroke-width="2.4" stroke-linecap="butt"/><line x1="762.4" y1="560" x2="722.4" y2="640" stroke="#274a5a" stroke-width="2.4" stroke-linecap="butt"/><line x1="773.6" y1="560" x2="733.6" y2="640" stroke="#274a5a" stroke-width="2.4" stroke-linecap="butt"/><line x1="784.8" y1="560" x2="744.8" y2="640" stroke="#274a5a" stroke-width="2.4" stroke-linecap="butt"/><line x1="796" y1="560" x2="756" y2="640" stroke="#274a5a" stroke-width="2.4" stroke-linecap="butt"/><line x1="807.2" y1="560" x2="767.2" y2="640" stroke="#274a5a" stroke-width="2.4" stroke-linecap="butt"/><line x1="818.4" y1="560" x2="778.4" y2="640" stroke="#274a5a" stroke-width="2.4" stroke-linecap="butt"/><line x1="829.6" y1="560" x2="789.6" y2="640" stroke="#274a5a" stroke-width="2.4" stroke-linecap="butt"/><line x1="840.8" y1="560" x2="800.8" y2="640" stroke="#274a5a" stroke-width="2.4" stroke-linecap="butt"/><line x1="852" y1="560" x2="812" y2="640" stroke="#274a5a" stroke-width="2.4" stroke-linecap="butt"/><line x1="863.2" y1="560" x2="823.2" y2="640" stroke="#274a5a" stroke-width="2.4" stroke-linecap="butt"/><line x1="874.4" y1="560" x2="834.4" y2="640" stroke="#274a5a" stroke-width="2.4" stroke-linecap="butt"/><line x1="885.6" y1="560" x2="845.6" y2="640" stroke="#274a5a" stroke-width="2.4" stroke-linecap="butt"/><line x1="896.8" y1="560" x2="856.8" y2="640" stroke="#274a5a" stroke-width="2.4" stroke-linecap="butt"/><line x1="908" y1="560" x2="868" y2="640" stroke="#274a5a" stroke-width="2.4" stroke-linecap="butt"/><line x1="919.2" y1="560" x2="879.2" y2="640" stroke="#274a5a" stroke-width="2.4" stroke-linecap="butt"/><line x1="930.4" y1="560" x2="890.4" y2="640" stroke="#274a5a" stroke-width="2.4" stroke-linecap="butt"/><line x1="941.6" y1="560" x2="901.6" y2="640" stroke="#274a5a" stroke-width="2.4" stroke-linecap="butt"/><line x1="952.8" y1="560" x2="912.8" y2="640" stroke="#274a5a" stroke-width="2.4" stroke-linecap="butt"/><line x1="675.2" y1="560" x2="715.2" y2="640" stroke="#40728d" stroke-width="3.2" stroke-linecap="butt"/><line x1="677" y1="560" x2="717" y2="640" stroke="#1e3948" stroke-width="1" stroke-linecap="butt"/><line x1="686.4" y1="560" x2="726.4" y2="640" stroke="#40728d" stroke-width="3.2" stroke-linecap="butt"/><line x1="688.2" y1="560" x2="728.2" y2="640" stroke="#1e3948" stroke-width="1" stroke-linecap="butt"/><line x1="697.6" y1="560" x2="737.6" y2="640" stroke="#40728d" stroke-width="3.2" stroke-linecap="butt"/><line x1="699.4" y1="560" x2="739.4" y2="640" stroke="#1e3948" stroke-width="1" stroke-linecap="butt"/><line x1="708.8" y1="560" x2="748.8" y2="640" stroke="#40728d" stroke-width="3.2" stroke-linecap="butt"/><line x1="710.6" y1="560" x2="750.6" y2="640" stroke="#1e3948" stroke-width="1" stroke-linecap="butt"/><line x1="720" y1="560" x2="760" y2="640" stroke="#40728d" stroke-width="3.2" stroke-linecap="butt"/><line x1="721.8" y1="560" x2="761.8" y2="640" stroke="#1e3948" stroke-width="1" stroke-linecap="butt"/><line x1="731.2" y1="560" x2="771.2" y2="640" stroke="#40728d" stroke-width="3.2" stroke-linecap="butt"/><line x1="733" y1="560" x2="773" y2="640" stroke="#1e3948" stroke-width="1" stroke-linecap="butt"/><line x1="742.4" y1="560" x2="782.4" y2="640" stroke="#40728d" stroke-width="3.2" stroke-linecap="butt"/><line x1="744.2" y1="560" x2="784.2" y2="640" stroke="#1e3948" stroke-width="1" stroke-linecap="butt"/><line x1="753.6" y1="560" x2="793.6" y2="640" stroke="#40728d" stroke-width="3.2" stroke-linecap="butt"/><line x1="755.4" y1="560" x2="795.4" y2="640" stroke="#1e3948" stroke-width="1" stroke-linecap="butt"/><line x1="764.8" y1="560" x2="804.8" y2="640" stroke="#40728d" stroke-width="3.2" stroke-linecap="butt"/><line x1="766.6" y1="560" x2="806.6" y2="640" stroke="#1e3948" stroke-width="1" stroke-linecap="butt"/><line x1="776" y1="560" x2="816" y2="640" stroke="#40728d" stroke-width="3.2" stroke-linecap="butt"/><line x1="777.8" y1="560" x2="817.8" y2="640" stroke="#1e3948" stroke-width="1" stroke-linecap="butt"/><line x1="787.2" y1="560" x2="827.2" y2="640" stroke="#40728d" stroke-width="3.2" stroke-linecap="butt"/><line x1="789" y1="560" x2="829" y2="640" stroke="#1e3948" stroke-width="1" stroke-linecap="butt"/><line x1="798.4" y1="560" x2="838.4" y2="640" stroke="#40728d" stroke-width="3.2" stroke-linecap="butt"/><line x1="800.2" y1="560" x2="840.2" y2="640" stroke="#1e3948" stroke-width="1" stroke-linecap="butt"/><line x1="809.6" y1="560" x2="849.6" y2="640" stroke="#40728d" stroke-width="3.2" stroke-linecap="butt"/><line x1="811.4" y1="560" x2="851.4" y2="640" stroke="#1e3948" stroke-width="1" stroke-linecap="butt"/><line x1="820.8" y1="560" x2="860.8" y2="640" stroke="#40728d" stroke-width="3.2" stroke-linecap="butt"/><line x1="822.6" y1="560" x2="862.6" y2="640" stroke="#1e3948" stroke-width="1" stroke-linecap="butt"/><line x1="832" y1="560" x2="872" y2="640" stroke="#40728d" stroke-width="3.2" stroke-linecap="butt"/><line x1="833.8" y1="560" x2="873.8" y2="640" stroke="#1e3948" stroke-width="1" stroke-linecap="butt"/><line x1="843.2" y1="560" x2="883.2" y2="640" stroke="#40728d" stroke-width="3.2" stroke-linecap="butt"/><line x1="845" y1="560" x2="885" y2="640" stroke="#1e3948" stroke-width="1" stroke-linecap="butt"/><line x1="854.4" y1="560" x2="894.4" y2="640" stroke="#40728d" stroke-width="3.2" stroke-linecap="butt"/><line x1="856.2" y1="560" x2="896.2" y2="640" stroke="#1e3948" stroke-width="1" stroke-linecap="butt"/><line x1="865.6" y1="560" x2="905.6" y2="640" stroke="#40728d" stroke-width="3.2" stroke-linecap="butt"/><line x1="867.4" y1="560" x2="907.4" y2="640" stroke="#1e3948" stroke-width="1" stroke-linecap="butt"/><line x1="876.8" y1="560" x2="916.8" y2="640" stroke="#40728d" stroke-width="3.2" stroke-linecap="butt"/><line x1="878.6" y1="560" x2="918.6" y2="640" stroke="#1e3948" stroke-width="1" stroke-linecap="butt"/><line x1="888" y1="560" x2="928" y2="640" stroke="#40728d" stroke-width="3.2" stroke-linecap="butt"/><line x1="889.8" y1="560" x2="929.8" y2="640" stroke="#1e3948" stroke-width="1" stroke-linecap="butt"/><line x1="899.2" y1="560" x2="939.2" y2="640" stroke="#40728d" stroke-width="3.2" stroke-linecap="butt"/><line x1="901" y1="560" x2="941" y2="640" stroke="#1e3948" stroke-width="1" stroke-linecap="butt"/><line x1="910.4" y1="560" x2="950.4" y2="640" stroke="#40728d" stroke-width="3.2" stroke-linecap="butt"/><line x1="912.2" y1="560" x2="952.2" y2="640" stroke="#1e3948" stroke-width="1" stroke-linecap="butt"/><line x1="921.6" y1="560" x2="961.6" y2="640" stroke="#40728d" stroke-width="3.2" stroke-linecap="butt"/><line x1="923.4" y1="560" x2="963.4" y2="640" stroke="#1e3948" stroke-width="1" stroke-linecap="butt"/><line x1="932.8" y1="560" x2="972.8" y2="640" stroke="#40728d" stroke-width="3.2" stroke-linecap="butt"/><line x1="934.6" y1="560" x2="974.6" y2="640" stroke="#1e3948" stroke-width="1" stroke-linecap="butt"/></g><line x1="735.6" y1="568" x2="906" y2="598" stroke="#6092a9" stroke-width="6.5" stroke-linecap="butt"/><line x1="736" y1="571.5" x2="906" y2="601.5" stroke="#356279" stroke-width="1" stroke-linecap="butt"/><line x1="771.6" y1="619.5" x2="909" y2="647" stroke="#4c7f9a" stroke-width="5" stroke-linecap="butt"/><line x1="771.6" y1="622.5" x2="909" y2="650" stroke="#274a5a" stroke-width="1.2" stroke-linecap="butt"/><polygon points="745,731 822,704 898,714 906,722 884,778 740,739" fill="#41738c" /><path d="M781.5,740.6 Q800.6,734.6 819.7,741.2 L818.5540000000001,749 Q810.1500000000001,743.6 802.51,746.0 Q798.69,743.0 792.96,745.4 Q787.23,744.2 781.5,749 Z" fill="#d3d3d3"/><path d="M804.7,748.2 Q825.45,741.2 846.2,748.9 L844.955,758 Q835.825,751.7 827.5250000000001,754.5 Q823.375,751.0 817.1500000000001,753.8 Q810.9250000000001,752.4 804.7,758 Z" fill="#d3d3d3"/><path d="M833,717.3 Q844.6,711.8 856.2,717.85 L855.504,725 Q850.4000000000001,720.05 845.76,722.25 Q843.44,719.5 839.96,721.7 Q836.48,720.6 833,725 Z" fill="#d3d3d3"/><path d="M859.5,725.3 Q871.95,719.8 884.4,725.85 L883.653,733 Q878.175,728.05 873.1949999999999,730.25 Q870.705,727.5 866.97,729.7 Q863.235,728.6 859.5,733 Z" fill="#d3d3d3"/><path d="M809.7,709.7 Q819.6500000000001,705.2 829.6,710.15 L829.003,716 Q824.625,711.95 820.645,713.75 Q818.6550000000001,711.5 815.6700000000001,713.3 Q812.6850000000001,712.4 809.7,716 Z" fill="#d3d3d3"/><path d="M760,733.7 Q772.5,729.2 785,734.15 L784.25,740 Q778.75,735.95 773.75,737.75 Q771.25,735.5 767.5,737.3 Q763.75,736.4 760,740 Z" fill="#d3d3d3"/><path d="M784,721.4 Q795.0,717.4 806,721.8 L805.34,727 Q800.5,723.4 796.1,725.0 Q793.9,723.0 790.6,724.6 Q787.3,723.8 784,727 Z" fill="#d3d3d3"/><rect x="822.3" y="728.8" width="8" height="2" fill="#dfe3e5" transform="rotate(18 826.3 729.8)"/><rect x="850.5" y="736.3" width="8" height="2" fill="#dfe3e5" transform="rotate(18 854.5 737.3)"/><rect x="862.0" y="749.0" width="8" height="2" fill="#dfe3e5" transform="rotate(18 866.0 750.0)"/><rect x="868.0" y="757.0" width="8" height="2" fill="#dfe3e5" transform="rotate(18 872.0 758.0)"/><rect x="874.0" y="765.0" width="8" height="2" fill="#dfe3e5" transform="rotate(18 878.0 766.0)"/><rect x="844.0" y="759.0" width="8" height="2" fill="#dfe3e5" transform="rotate(18 848.0 760.0)"/><rect x="854.0" y="745.0" width="8" height="2" fill="#dfe3e5" transform="rotate(18 858.0 746.0)"/><polygon points="829.6,700 896,714.9 897,718 830,704" fill="#284c61" /><polygon points="744,731 760,726 762,731 748,736" fill="#223f4f" /><polygon points="760,733 800,722 805,728 770,738" fill="#284c61" /><polygon points="745.4,713.5 820.3,685 822.4,705.3 745.4,731.7" fill="#42728d" /><polygon points="752.5,717.6 755.75,723.6 752.5,729.6 749.25,723.6" fill="#dfe3e5" /><polygon points="767.7,710.5 770.95,716.5 767.7,722.5 764.45,716.5" fill="#dfe3e5" /><polygon points="782.9,703.4 786.15,709.4 782.9,715.4 779.65,709.4" fill="#dfe3e5" /><polygon points="798,696.3 801.25,702.3 798,708.3 794.75,702.3" fill="#dfe3e5" /><polygon points="812.2,690.2 815.45,696.2 812.2,702.2 808.95,696.2" fill="#dfe3e5" /><polygon points="752,690 812,670 813,675 753,695" fill="#6092a9" /><polygon points="736,736 884,775 884,791.3 736,753" fill="#4d819c" /><polygon points="736,736 884,775 884,779 736,740" fill="#6b99af" /><polygon points="897,576 903,565 915,560 964,552.6 976,554 982,563 979.4,590.6 967,618 956.6,633 952,644 955,651 962,705 968,712 975,713 976,757.7 974.7,761.2 968,762 960.7,764.7 905,797.8 905,808.3 884,808.3 884,773.4 911,680 915.6,643.7 911,630 900.4,608.8 895.8,593.6" fill="#5a8ea8" /><polygon points="905,580 961,567.8 970.3,570.8 961.1,605.8 949,630 924.7,639.2 908,611.8 901.9,590.6" fill="#d3d3d3" /><clipPath id="rh"><polygon points="905,580 961,567.8 970.3,570.8 961.1,605.8 949,630 924.7,639.2 908,611.8 901.9,590.6"/></clipPath><g clip-path="url(#rh)"><line x1="915" y1="565" x2="901" y2="645" stroke="#244251" stroke-width="2.8" stroke-linecap="butt"/><line x1="924" y1="565" x2="910" y2="645" stroke="#244251" stroke-width="2.8" stroke-linecap="butt"/><line x1="933" y1="565" x2="919" y2="645" stroke="#244251" stroke-width="2.8" stroke-linecap="butt"/><line x1="942" y1="565" x2="928" y2="645" stroke="#244251" stroke-width="2.8" stroke-linecap="butt"/><line x1="951" y1="565" x2="937" y2="645" stroke="#244251" stroke-width="2.8" stroke-linecap="butt"/><line x1="960" y1="565" x2="946" y2="645" stroke="#244251" stroke-width="2.8" stroke-linecap="butt"/><line x1="969" y1="565" x2="955" y2="645" stroke="#244251" stroke-width="2.8" stroke-linecap="butt"/><line x1="978" y1="565" x2="964" y2="645" stroke="#244251" stroke-width="2.8" stroke-linecap="butt"/></g><polygon points="961,568 970.3,570.8 961.1,605.8 955,606" fill="#2f566a" /><polygon points="906,609 962,589 962,596 909,617" fill="#5a8ea8" /><polygon points="940,553 956,554 956,562 946,578 930,579 930,574 942,572 948,561 940,560" fill="#497993" /><polygon points="921.5,656 948,656 961,709 909,734" fill="#d3d3d3" /><polygon points="901.4,770 964.2,741 964.2,747 901.4,776.5" fill="#224051" /><polygon points="957,721 968,718 968,750 959,752" fill="#284c61" /><polygon points="911.9,752.3 913.9,756.8 911.9,761.3 909.9,756.8" fill="#cfd6da" /><polygon points="929.3,742.5 931.3,747 929.3,751.5 927.3,747" fill="#cfd6da" /><polygon points="941.5,736 943.5,740.5 941.5,745 939.5,740.5" fill="#cfd6da" /><polygon points="955.5,726.5 957.5,731 955.5,735.5 953.5,731" fill="#cfd6da" /><polygon points="911,680 915.6,643.7 919,644 916,680 891,773 887,773" fill="#477c96" /></svg></div>

<div class="c" style="left:26.3px;top:408.4px;letter-spacing:0.114px">1. Take a support plate</div>
<div class="c" style="left:339.3px;top:408.4px;letter-spacing:0.05px">2. Take the upper bracket and</div>
<div class="c" style="left:339.6px;top:437.3px;letter-spacing:0.287px">connect the support plate</div>
<div class="c" style="left:703px;top:408px;letter-spacing:-0.126px">3. Take the second upper</div>
<div class="c" style="left:657px;top:437.4px;letter-spacing:-0.122px">bracket,the steps are the same as</div>
<div class="c" style="left:757.3px;top:466.8px;letter-spacing:-0.193px">the second step</div>
<div class="c" style="left:36.5px;top:827.5px;letter-spacing:0.183px">4. Take the bottom shelf</div>
<div class="c" style="left:104.2px;top:862.3px;letter-spacing:0.354px">and install it</div>
<div class="c" style="left:400.7px;top:827.4px;letter-spacing:-0.142px">5. Insert the second</div>
<div class="c" style="left:436.2px;top:857.7px;letter-spacing:0.483px">support plate</div>
<div class="c" style="left:670.4px;top:827.2px;letter-spacing:0.042px">6. Put the bowl rack, remove the</div>
<div class="c" style="left:723px;top:856.5px;letter-spacing:0.271px">lower sink and install it</div>
</body></html>
